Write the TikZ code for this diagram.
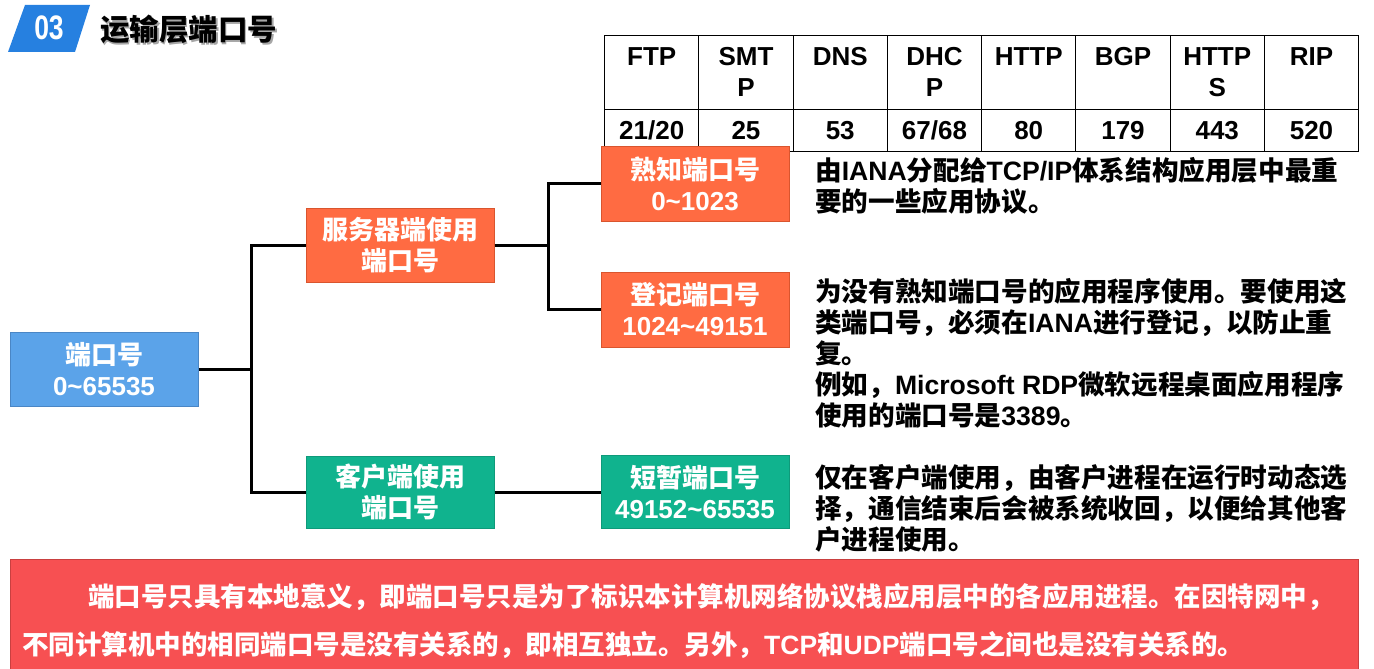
\documentclass[tikz,border=0pt]{standalone}
\usepackage{fontspec}
\setmainfont{Noto Sans CJK SC}
\newfontfamily\en{Liberation Sans}
\usetikzlibrary{calc}

\definecolor{titleblue}{HTML}{2680E0}
\definecolor{portfill}{HTML}{5BA3E9}
\definecolor{portedge}{HTML}{4A86C5}
\definecolor{servfill}{HTML}{FF6B42}
\definecolor{servedge}{HTML}{D9552E}
\definecolor{clifill}{HTML}{10B38E}
\definecolor{cliedge}{HTML}{0E9A7A}
\definecolor{notefill}{HTML}{F75052}
\definecolor{noteedge}{HTML}{C94040}

% Latin words set in an Arial-width face
\newcommand\ltn[1]{{\en #1}}
\newcommand\tl{\textasciitilde}

\begin{document}
\begin{tikzpicture}[x=1pt,y=-1pt,
  txt/.style={inner sep=0pt, font=\bfseries\fontsize{26}{31}\selectfont},
  box/.style 2 args={txt, rectangle, fill=#1, draw=#2, line width=1pt,
    text=white, align=center, minimum width=188pt},
  link/.style={line width=3pt},
  cell/.style={draw=black, line width=1.2pt, minimum width=94.25pt,
    inner sep=0pt, anchor=north west},
  celltext/.style={inner sep=0pt, align=center,
    font=\en\bfseries\fontsize{26}{31}\selectfont},
  desc/.style={inner sep=0pt, anchor=north west, align=left,
    font=\bfseries\fontsize{26.6}{31}\selectfont},
]
\useasboundingbox (0,0) rectangle (1374,669);

% heading
\path[fill=titleblue] (25,5) -- (90,5) -- (75,52) -- (8,52) -- cycle;
\node[inner sep=0pt, text=white, font=\en\bfseries\fontsize{34}{34}\selectfont]
  (num) at (49,27.5) {\scalebox{0.78}[1]{03}};
\node[inner sep=0pt, anchor=west, text=black!35, font=\bfseries\fontsize{29.5}{29.5}\selectfont]
  (titleshadow) at (101.5,31) {运输层端口号};
\node[inner sep=0pt, anchor=west, font=\bfseries\fontsize{29.5}{29.5}\selectfont]
  (title) at (100,29.5) {运输层端口号};

% port table
\foreach \hd/\pt [count=\i] in {{FTP}/{21/20}, {SMT\\P}/{25}, {DNS}/{53},
    {DHC\\P}/{67/68}, {HTTP}/{80}, {BGP}/{179}, {HTTP\\S}/{443}, {RIP}/{520}} {
  \node[cell, minimum height=74pt] (h\i) at ({604+(\i-1)*94.25}, 35) {};
  \node[cell, minimum height=42pt] (v\i) at ({604+(\i-1)*94.25}, 109) {};
  \node[celltext, anchor=north] (ht\i) at ($(h\i.north)+(0,12)$) {\hd};
  \node[celltext] (vt\i) at (v\i.center) {\pt};
}

% tree of port ranges
\node[box={portfill}{portedge}, minimum height=74pt] (port) at (104,369)
  {端口号\\\ltn{0\tl65535}};
\node[box={servfill}{servedge}, minimum height=74pt] (server) at (400,245)
  {服务器端使用\\端口号};
\node[box={clifill}{cliedge}, minimum height=72pt] (client) at (400,492)
  {客户端使用\\端口号};
\node[box={servfill}{servedge}, minimum height=75pt] (well) at (695,183.5)
  {熟知端口号\\\ltn{0\tl1023}};
\node[box={servfill}{servedge}, minimum height=75pt] (reg) at (695,309.5)
  {登记端口号\\\ltn{1024\tl49151}};
\node[box={clifill}{cliedge}, minimum height=73pt] (eph) at (695,492)
  {短暂端口号\\\ltn{49152\tl65535}};

\coordinate (j1) at (251,369);
\coordinate (j2) at (548,245);
\draw[link] (port.east) -- (j1);
\draw[link] (server.west) -| (j1);
\draw[link] (client.west) -| (j1);
\draw[link] (server.east) -- (j2);
\draw[link] (well.west) -| (j2);
\draw[link] (reg.west) -| (j2);
\draw[link] (client.east) -- (eph.west);

% explanations
\node[desc] (desc1) at (815,157)
  {由\ltn{IANA}分配给\ltn{TCP/IP}体系结构应用层中最重\\要的一些应用协议。};
\node[desc] (desc2) at (815,278)
  {为没有熟知端口号的应用程序使用。要使用这\\
   类端口号，必须在\ltn{IANA}进行登记，以防止重\\
   复。\\
   例如，\ltn{Microsoft RDP}微软远程桌面应用程序\\
   使用的端口号是\ltn{3389}。};
\node[desc] (desc3) at (815,464)
  {仅在客户端使用，由客户进程在运行时动态选\\
   择，通信结束后会被系统收回，以便给其他客\\
   户进程使用。};

% note at the bottom
\node[rectangle, fill=notefill, draw=noteedge, line width=1pt, anchor=north west,
  minimum width=1348pt, minimum height=114pt, inner sep=0pt] (note) at (10,559) {};
\node[inner sep=0pt, anchor=north west, align=left, text=white,
  font=\bfseries\fontsize{26.5}{48}\selectfont] (notetext) at (22,583)
  {\hspace*{66pt}端口号只具有本地意义，即端口号只是为了标识本计算机网络协议栈应用层中的各应用进程。在因特网中，\\
   不同计算机中的相同端口号是没有关系的，即相互独立。另外，\ltn{TCP}和\ltn{UDP}端口号之间也是没有关系的。};
\end{tikzpicture}
\end{document}
